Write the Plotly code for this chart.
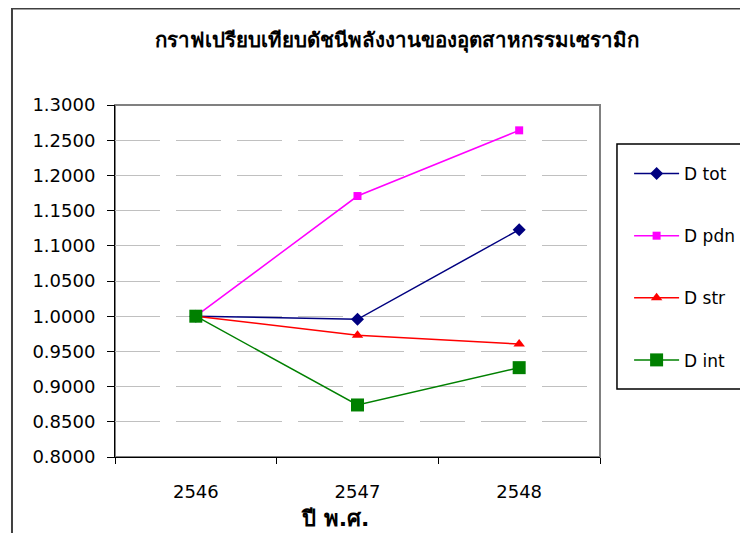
import plotly.graph_objects as go

years = ["2546", "2547", "2548"]
d_tot = [1.0000, 0.9956, 1.1229]
d_pdn = [1.0000, 1.1707, 1.2640]
d_str = [1.0000, 0.9728, 0.9605]
d_int = [1.0000, 0.8739, 0.9269]

series = [
    ("D tot", d_tot, "#000080", "diamond", 10),
    ("D pdn", d_pdn, "#FF00FF", "square", 8),
    ("D str", d_str, "#FF0000", "triangle-up", 10),
    ("D int", d_int, "#008000", "square", 13),
]

font_main = "DejaVu Sans, Arial, sans-serif"

fig = go.Figure()
for i, (name, vals, color, symbol, size) in enumerate(series):
    fig.add_trace(
        go.Scatter(
            x=years,
            y=vals,
            name=name,
            mode="lines+markers",
            line=dict(color=color, width=1.5),
            marker=dict(symbol=symbol, size=size, color=color),
            legendgroup=f"g{i}",
        )
    )

fig.update_layout(
    width=748,
    height=533,
    margin=dict(l=107, r=156, t=97, b=84, autoexpand=False),
    paper_bgcolor="white",
    plot_bgcolor="white",
    font=dict(family=font_main, size=18, color="black"),
    showlegend=True,
    legend=dict(
        x=1.06,
        xanchor="left",
        y=0.855,
        yanchor="top",
        bgcolor="rgba(0,0,0,0)",
        borderwidth=0,
        font=dict(size=17),
        itemwidth=45,
        tracegroupgap=37,
    ),
    title=dict(
        text="<b>กราฟเปรียบเทียบดัชนีพลังงานของอุตสาหกรรมเซรามิก</b>",
        x=0.52,
        xanchor="center",
        y=0.94,
        yanchor="middle",
        font=dict(size=20.5, color="black"),
    ),
)

fig.update_xaxes(
    type="category",
    range=[-0.5, 2.5],
    showline=True,
    linecolor="black",
    linewidth=1,
    ticks="outside",
    ticklen=6,
    tickcolor="black",
    tickson="boundaries",
    showgrid=False,
    ticklabelstandoff=18,
    automargin=False,
)

fig.update_yaxes(
    range=[0.8, 1.3],
    dtick=0.05,
    tickformat=".4f",
    showline=True,
    linecolor="black",
    linewidth=1,
    ticks="outside",
    ticklen=7,
    tickcolor="black",
    gridcolor="#c0c0c0",
    griddash="45px,16px",
    zeroline=False,
    ticklabelstandoff=8,
    automargin=False,
)

# plot area frame, outer chart frame and legend box
fig.add_shape(type="rect", xref="paper", yref="paper", x0=0, x1=1, y0=0, y1=1,
              line=dict(color="#808080", width=2), layer="below")
fig.add_shape(type="rect", xref="paper", yref="paper", x0=-0.2124, x1=1.5, y0=-0.4, y1=1.274,
              line=dict(color="#404040", width=2), layer="below")
fig.add_shape(type="rect", xref="paper", yref="paper", x0=1.035, x1=1.5, y0=0.193, y1=0.889,
              line=dict(color="black", width=1.5), layer="below")

fig.add_annotation(
    text="<b>ปี พ.ศ.</b>",
    xref="paper", yref="paper",
    x=0.454, y=-0.216,
    showarrow=False,
    font=dict(size=22, color="black"),
)

fig.write_html("out.html")
